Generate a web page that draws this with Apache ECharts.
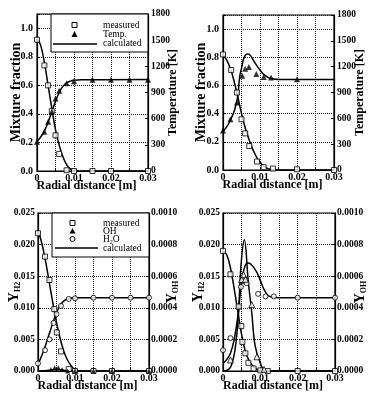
<!DOCTYPE html>
<html>
<head>
<meta charset="utf-8">
<script src="https://cdn.jsdelivr.net/npm/echarts@6/dist/echarts.min.js"></script>
<style>
  html, body { margin: 0; padding: 0; background: #fff; }
  #chart { width: 371px; height: 393px; }
</style>
</head>
<body>
<div id="chart"></div>
<script>
// top-left: mixture fraction / temperature, case 1
const aMixMeas = [[0, 0.92], [0.002, 0.74], [0.003, 0.60], [0.004, 0.42], [0.005, 0.25], [0.006, 0.12], [0.008, 0.005], [0.01, 0], [0.015, 0], [0.02, 0], [0.03, 0]]
const aTempMeas = [[0, 335], [0.002, 450], [0.003, 565], [0.004, 680], [0.005, 830], [0.006, 920], [0.008, 1005], [0.01, 1030], [0.015, 1045], [0.02, 1045], [0.025, 1045], [0.03, 1045]]
const aMixCalc = [[0, 0.93], [0.001, 0.88], [0.002, 0.76], [0.003, 0.60], [0.004, 0.44], [0.005, 0.29], [0.006, 0.18], [0.007, 0.10], [0.008, 0.045], [0.009, 0.015], [0.01, 0.003], [0.011, 0], [0.03, 0]]
const aTempCalc = [[0, 340], [0.001, 390], [0.002, 460], [0.003, 560], [0.004, 680], [0.005, 800], [0.006, 900], [0.007, 970], [0.008, 1010], [0.009, 1030], [0.01, 1040], [0.012, 1046], [0.03, 1048]]

// top-right: mixture fraction / temperature, case 2
const bMixMeas = [[0, 0.82], [0.0022, 0.71], [0.0038, 0.55], [0.005, 0.36], [0.006, 0.26], [0.0071, 0.17], [0.0092, 0.06], [0.011, 0.02], [0.0135, 0.01], [0.02, 0.005], [0.03, 0]]
const bTempMeas = [[0, 460], [0.002, 590], [0.0038, 785], [0.0052, 1095], [0.006, 1175], [0.007, 1195], [0.009, 1115], [0.011, 1080], [0.013, 1075], [0.02, 1055]]
const bMixCalc = [[0, 0.82], [0.001, 0.78], [0.002, 0.72], [0.003, 0.63], [0.004, 0.52], [0.005, 0.40], [0.006, 0.30], [0.007, 0.22], [0.008, 0.15], [0.009, 0.095], [0.01, 0.055], [0.011, 0.028], [0.012, 0.012], [0.013, 0.004], [0.014, 0], [0.03, 0]]
const bTempCalc = [[0, 450], [0.001, 500], [0.002, 580], [0.003, 680], [0.0035, 760], [0.004, 860], [0.0045, 1080], [0.005, 1180], [0.0055, 1280], [0.006, 1330], [0.0065, 1348], [0.007, 1345], [0.0075, 1325], [0.008, 1290], [0.009, 1220], [0.01, 1160], [0.011, 1110], [0.012, 1080], [0.013, 1062], [0.015, 1052], [0.03, 1050]]

// bottom-left: species, case 1 (H2, H2O on left axis, OH on right axis)
const cH2Meas = [[0, 0.0218], [0.0019, 0.0181], [0.0031, 0.0144], [0.0044, 0.0098], [0.0051, 0.0061], [0.0062, 0.0031], [0.0083, 0.0003], [0.01, 0], [0.015, 0], [0.02, 0], [0.03, 0]]
const cH2OMeas = [[0, 0.0012], [0.0019, 0.0033], [0.0031, 0.005], [0.0042, 0.0076], [0.005, 0.009], [0.0062, 0.0103], [0.0083, 0.0114], [0.01, 0.0115], [0.015, 0.0116], [0.02, 0.0116], [0.025, 0.0116], [0.03, 0.0116]]
const cOHMeas = [[0.0035, 0.00001], [0.0045, 0.00002], [0.0055, 0.00002], [0.0065, 0.00001], [0.008, 0], [0.01, 0], [0.015, 0], [0.02, 0], [0.03, 0]]
const cH2Calc = [[0, 0.0222], [0.001, 0.0203], [0.002, 0.0175], [0.003, 0.0142], [0.004, 0.0108], [0.005, 0.0077], [0.006, 0.0051], [0.007, 0.0031], [0.008, 0.0017], [0.009, 0.0008], [0.01, 0.0002], [0.011, 0], [0.03, 0]]
const cH2OCalc = [[0, 0.001], [0.001, 0.0024], [0.002, 0.004], [0.003, 0.0058], [0.004, 0.0076], [0.005, 0.0092], [0.006, 0.0104], [0.007, 0.0111], [0.008, 0.0114], [0.01, 0.0116], [0.03, 0.0116]]
const cOHCalc = [[0, 0], [0.003, 0.000005], [0.005, 0.00001], [0.007, 0.000005], [0.009, 0], [0.03, 0]]

// bottom-right: species, case 2
const dH2Meas = [[0, 0.019], [0.002, 0.0153], [0.0042, 0.0102], [0.0049, 0.0071], [0.0052, 0.0046], [0.006, 0.0028], [0.0068, 0.0013], [0.0082, 0.0004], [0.01, 0.0001], [0.012, 0], [0.02, 0], [0.03, 0]]
const dH2OMeas = [[0, 0.0033], [0.002, 0.0052], [0.0048, 0.0133], [0.0055, 0.0142], [0.0063, 0.0139], [0.0094, 0.0122], [0.0114, 0.0118], [0.0136, 0.0118], [0.02, 0.0116], [0.03, 0.0116]]
const dOHMeas = [[0.002, 0.00007], [0.005, 0.00058], [0.0055, 0.00061], [0.006, 0.00058], [0.0077, 0.00042], [0.0091, 0.00009], [0.011, 0.00001]]
const dH2Calc = [[0, 0.019], [0.001, 0.0184], [0.002, 0.0163], [0.003, 0.013], [0.004, 0.0093], [0.005, 0.0057], [0.006, 0.0031], [0.007, 0.0016], [0.008, 0.0008], [0.009, 0.0003], [0.01, 0.0001], [0.012, 0], [0.03, 0]]
const dH2OCalc = [[0, 0.0012], [0.001, 0.0018], [0.002, 0.0028], [0.003, 0.005], [0.004, 0.0088], [0.0045, 0.0116], [0.005, 0.0142], [0.0055, 0.0158], [0.0065, 0.0171], [0.0075, 0.0169], [0.009, 0.0157], [0.01, 0.0143], [0.011, 0.0129], [0.012, 0.012], [0.013, 0.0117], [0.015, 0.0116], [0.03, 0.0116]]
const dOHCalc = [[0, 0], [0.0015, 0.00001], [0.0023, 0.00004], [0.0032, 0.00013], [0.0041, 0.00034], [0.0048, 0.00066], [0.0057, 0.00083], [0.0068, 0.00056], [0.0077, 0.00037], [0.0086, 0.00016], [0.01, 0.00005], [0.0115, 0], [0.03, 0]]

const FONT = 'Liberation Serif'
const chart = echarts.init(document.getElementById('chart'))

const grids = [
  { left: 37, top: 14, width: 111, height: 157 },
  { left: 223, top: 15, width: 111, height: 155 },
  { left: 38, top: 213, width: 111, height: 161 },
  { left: 223, top: 213, width: 112, height: 160 },
]

const axisLine = { show: true, lineStyle: { color: '#000', width: 1.2 } }
const tick = { show: true, inside: true, length: 3, lineStyle: { color: '#000' } }
const dotted = { show: true, lineStyle: { color: '#222', type: 'dotted', width: 1 } }
const lbl = (fmt, margin, size) => ({ color: '#000', fontFamily: FONT, fontSize: size || 10, fontWeight: 'bold', margin, formatter: fmt })
const titleStyle = (size) => ({ color: '#000', fontFamily: FONT, fontSize: size, fontWeight: 'bold' })

const xFmt = v => {
  const k = Math.round(v / 0.005)
  if (k % 2) return ''
  return k === 0 ? '0' : v.toFixed(2)
}

const xAxis = grids.map((g, i) => ({
  type: 'value', gridIndex: i, min: 0, max: 0.03, interval: 0.005,
  axisLine, axisTick: tick, splitLine: dotted,
  axisLabel: lbl(xFmt, 2),
  name: 'Radial distance [m]', nameLocation: 'middle', nameGap: 9, nameMoveOverlap: false,
  nameTextStyle: Object.assign(titleStyle(12), { padding: [0, 12, 0, 0] }),
}))

const ysub = {
  y: { fontFamily: FONT, fontSize: 14, fontWeight: 'bold', color: '#000', lineHeight: 16, verticalAlign: 'middle' },
  s: { fontFamily: FONT, fontSize: 8, fontWeight: 'bold', color: '#000', lineHeight: 16, verticalAlign: 'bottom' },
}

const mixAxis = (i, gap) => ({
  type: 'value', gridIndex: i, position: 'left', min: 0, max: 1.1, interval: 0.2,
  axisLine, axisTick: tick, splitLine: dotted,
  axisLabel: lbl(v => (v > 1.05 ? '' : v.toFixed(1)), 4),
  name: 'Mixture fraction', nameLocation: 'middle', nameRotate: 90, nameGap: gap, nameMoveOverlap: false,
  nameTextStyle: titleStyle(14),
})
const tempAxis = (i, gap) => ({
  type: 'value', gridIndex: i, position: 'right', min: 0, max: 1800, interval: 300,
  axisLine, axisTick: tick, splitLine: { show: false },
  axisLabel: lbl(v => String(v), 3, 9.5),
  name: 'Temperature [K]', nameLocation: 'middle', nameRotate: 90, nameGap: gap, nameMoveOverlap: false,
  nameTextStyle: titleStyle(12),
})
const h2Axis = (i, gap) => ({
  type: 'value', gridIndex: i, position: 'left', min: 0, max: 0.025, interval: 0.005,
  axisLine, axisTick: tick, splitLine: dotted,
  axisLabel: lbl(v => v.toFixed(3), 3, 9.5),
  name: '{y|Y}{s|H2}', nameLocation: 'middle', nameRotate: 90, nameGap: gap, nameMoveOverlap: false,
  nameTextStyle: { rich: ysub },
})
const ohAxis = (i, gap) => ({
  type: 'value', gridIndex: i, position: 'right', min: 0, max: 0.001, interval: 0.0002,
  axisLine, axisTick: tick, splitLine: { show: false },
  axisLabel: lbl(v => v.toFixed(4), 2, 9.5),
  name: '{y|Y}{s|OH}', nameLocation: 'middle', nameRotate: 90, nameGap: gap, nameMoveOverlap: false,
  nameTextStyle: { rich: ysub },
})

const yAxis = [
  mixAxis(0, 14), tempAxis(0, 19),
  mixAxis(1, 15), tempAxis(1, 20),
  h2Axis(2, 16), ohAxis(2, 15),
  h2Axis(3, 17), ohAxis(3, 17),
]

const OPEN = { color: '#fff', borderColor: '#000', borderWidth: 1 }
const FILLED = { color: '#000' }
const pts = (data, g, side, symbol, style, size) => ({
  type: 'scatter', xAxisIndex: g, yAxisIndex: g * 2 + side, data,
  symbol, symbolSize: size, itemStyle: style, z: 4, silent: true,
})
const curve = (data, g, side) => ({
  type: 'line', xAxisIndex: g, yAxisIndex: g * 2 + side, data,
  smooth: 0.4, showSymbol: false, lineStyle: { color: '#000', width: 1.5 }, z: 3, silent: true,
})

const series = [
  curve(aMixCalc, 0, 0), curve(aTempCalc, 0, 1),
  pts(aMixMeas, 0, 0, 'rect', OPEN, 5), pts(aTempMeas, 0, 1, 'triangle', FILLED, 6),

  curve(bMixCalc, 1, 0), curve(bTempCalc, 1, 1),
  pts(bMixMeas, 1, 0, 'rect', OPEN, 5), pts(bTempMeas, 1, 1, 'triangle', FILLED, 6),

  curve(cH2Calc, 2, 0), curve(cH2OCalc, 2, 0), curve(cOHCalc, 2, 1),
  pts(cH2Meas, 2, 0, 'rect', OPEN, 5), pts(cH2OMeas, 2, 0, 'circle', OPEN, 5), pts(cOHMeas, 2, 1, 'triangle', FILLED, 5),

  curve(dH2Calc, 3, 0), curve(dH2OCalc, 3, 0), curve(dOHCalc, 3, 1),
  pts(dH2Meas, 3, 0, 'rect', OPEN, 5), pts(dH2OMeas, 3, 0, 'circle', OPEN, 5), pts(dOHMeas, 3, 1, 'triangle', OPEN, 6),
]

// legend boxes drawn by hand to match the figure
const legText = (x, y, text) => ({
  type: 'text', x, y, z: 101,
  style: { text, fontFamily: FONT, fontSize: 9.5, fill: '#000', verticalAlign: 'middle',
    rich: { n: { fontFamily: FONT, fontSize: 9.5 }, s: { fontFamily: FONT, fontSize: 6, verticalAlign: 'bottom', lineHeight: 11 } } },
})
const graphic = [
  { type: 'rect', z: 100, shape: { x: 51, y: 14, width: 97, height: 38 }, style: { fill: '#fff', stroke: '#000', lineWidth: 1 } },
  { type: 'rect', z: 101, shape: { x: 72, y: 22.5, width: 5, height: 5 }, style: { fill: '#fff', stroke: '#000', lineWidth: 1 } },
  { type: 'polygon', z: 101, shape: { points: [[74.5, 31], [71.5, 37], [77.5, 37]] }, style: { fill: '#000' } },
  { type: 'line', z: 101, shape: { x1: 53, y1: 44, x2: 97, y2: 44 }, style: { stroke: '#000', lineWidth: 1.5 } },
  legText(103, 25, 'measured'), legText(103, 34.5, 'Temp.'), legText(103, 43.5, 'calculated'),

  { type: 'rect', z: 100, shape: { x: 52, y: 213, width: 97, height: 44 }, style: { fill: '#fff', stroke: '#000', lineWidth: 1 } },
  { type: 'rect', z: 101, shape: { x: 70, y: 220.5, width: 5, height: 5 }, style: { fill: '#fff', stroke: '#000', lineWidth: 1 } },
  { type: 'polygon', z: 101, shape: { points: [[72.5, 228], [69.5, 233.5], [75.5, 233.5]] }, style: { fill: '#000' } },
  { type: 'circle', z: 101, shape: { cx: 72.5, cy: 239, r: 2.5 }, style: { fill: '#fff', stroke: '#000', lineWidth: 1 } },
  { type: 'line', z: 101, shape: { x1: 55, y1: 248, x2: 98, y2: 248 }, style: { stroke: '#000', lineWidth: 1.5 } },
  legText(103, 223, 'measured'), legText(103, 231, 'OH'), legText(103, 239.5, '{n|H}{s|2}{n|O}'), legText(103, 248, 'calculated'),
]

chart.setOption({
  backgroundColor: '#fff',
  animation: false,
  grid: grids.map(g => Object.assign({ show: true, borderColor: '#000', borderWidth: 1.2, containLabel: false }, g)),
  xAxis,
  yAxis,
  series,
  graphic,
})
</script>
</body>
</html>
